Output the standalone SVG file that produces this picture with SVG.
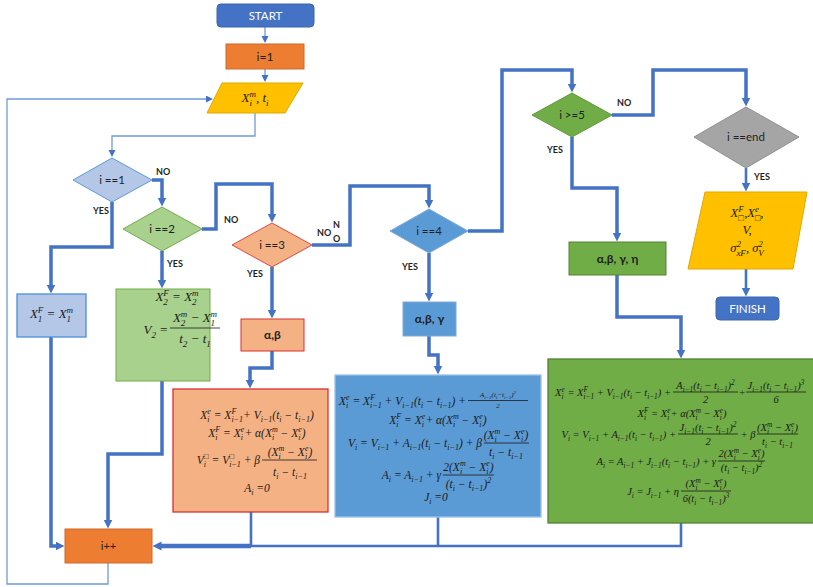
<svg xmlns="http://www.w3.org/2000/svg" width="813" height="587" viewBox="0 0 813 587">
<defs>
<style>
.t{font-family:Lato,"Liberation Sans",sans-serif;font-size:11.5px;fill:#1f1f1f;text-anchor:middle}
.w{fill:#fff}
.bd{font-weight:bold}
.lb{font-family:Lato,"Liberation Sans",sans-serif;font-size:9px;font-weight:bold;fill:#1f1f1f}
.m{font-family:"Liberation Serif","DejaVu Serif",serif;font-style:italic;font-size:11.5px;fill:#1a1a1a}
.g{font-size:10.5px}
.h{font-size:13px}
.r{font-size:7px}
.p{font-size:8px}
.q{font-size:7.3px}
.p9{font-size:9px}
.rr{font-size:5px}
.c{text-anchor:middle}
.e{text-anchor:end}
.k{stroke:#4472C4;stroke-width:3.5;fill:none}
.k2{stroke:#4472C4;stroke-width:2.6;fill:none}
.n{stroke:#6F9BD8;stroke-width:1.3;fill:none}
.fb{stroke:#1a1a1a;stroke-width:0.8}
</style>
<marker id="a" markerUnits="userSpaceOnUse" markerWidth="10" markerHeight="10" refX="3.5" refY="4.5" orient="auto"><path d="M0,0L9,4.5L0,9z" fill="#4472C4"/></marker>
<marker id="s" markerUnits="userSpaceOnUse" markerWidth="8" markerHeight="8" refX="3" refY="3.5" orient="auto"><path d="M0,0L7,3.5L0,7z" fill="#4472C4"/></marker>
</defs>

<g id="connectors">
<path class="n" d="M265,27V39" marker-end="url(#s)"/>
<path class="n" d="M265,69V78" marker-end="url(#s)"/>
<path class="n" d="M108,563V584H7V99H209" marker-end="url(#s)"/>
<path class="n" d="M255,113V136H112V153" marker-end="url(#s)"/>
<path class="k" d="M152,180H162V201" marker-end="url(#a)"/>
<path class="k" d="M112,202V247H51V288" marker-end="url(#a)"/>
<path class="k" d="M51,337V546H59" marker-end="url(#a)"/>
<path class="k" d="M202,229H216V184H272V217" marker-end="url(#a)"/>
<path class="k" d="M162,251V283" marker-end="url(#a)"/>
<path class="k" d="M162,381V454H108V523" marker-end="url(#a)"/>
<path class="k" d="M312,245H350V186H429V203" marker-end="url(#a)"/>
<path class="k" d="M272,267V313" marker-end="url(#a)"/>
<path class="k" d="M272,351V368H250V383" marker-end="url(#a)"/>
<path class="k2" d="M251,512V546"/>
<path class="k" d="M468,231H502V70H572V87" marker-end="url(#a)"/>
<path class="k" d="M429,253V296" marker-end="url(#a)"/>
<path class="k" d="M429,336V355H438V369" marker-end="url(#a)"/>
<path class="k2" d="M438,517V546"/>
<path class="k" d="M612,115H653V70H746V101" marker-end="url(#a)"/>
<path class="k" d="M572,137V188H617V236" marker-end="url(#a)"/>
<path class="k" d="M617,275V317H681V353" marker-end="url(#a)"/>
<path class="k2" d="M681,523V546H158" marker-end="url(#a)"/>
<path stroke="#4472C4" stroke-width="4.5" fill="none" d="M251,546H158"/>
<path class="k2" d="M746,168V186" marker-end="url(#a)"/>
<path class="k2" d="M746,269V291" marker-end="url(#a)"/>
<text class="lb" x="156" y="175">NO</text>
<text class="lb" x="93" y="214">YES</text>
<text class="lb" x="224" y="223">NO</text>
<text class="lb" x="167" y="267">YES</text>
<text class="lb" x="247" y="277">YES</text>
<text class="lb" x="317" y="236">NO</text>
<text class="lb" x="333" y="228">N</text>
<text class="lb" x="333" y="242">O</text>
<text class="lb" x="402" y="270">YES</text>
<text class="lb" x="617" y="106">NO</text>
<text class="lb" x="547" y="153">YES</text>
<text class="lb" x="754" y="180">YES</text>
</g>

<g id="start">
<rect x="217" y="4" width="97" height="23" rx="4" fill="#4472C4" stroke="#3B64AD"/>
<text class="t w" x="265.5" y="20">START</text>
</g>
<g id="init">
<rect x="226" y="44" width="78" height="25" fill="#ED7D31" stroke="#D0682A"/>
<text class="t" x="265" y="61" style="font-size:12px">i=1</text>
</g>
<g id="input">
<polygon points="222,83 303,83 285,113 207,113" fill="#FFC000" stroke="#E0A800"/>
<text class="m h c" x="255" y="102">X<tspan class="p9" dy="-5.5">m</tspan><tspan class="p9" dx="-6.5" dy="9">i</tspan><tspan dx="4" dy="-3.5">, t</tspan><tspan class="p9" dy="3.5">i</tspan></text>
</g>
<g id="d1">
<polygon points="112,158 152,180 112,202 73,180" fill="#B4C7E7" stroke="#5B9BD5"/>
<text class="t" x="112" y="184">i ==1</text>
</g>
<g id="b1">
<rect x="17" y="294" width="69" height="43" fill="#B4C7E7" stroke="#4A90D9" stroke-width="1.3"/>
<text class="m h c" x="51.5" y="318">X<tspan class="p9" dy="-5.5">F</tspan><tspan class="p9" dx="-5.5" dy="9">1</tspan><tspan dx="1" dy="-3.5"> = X</tspan><tspan class="p9" dy="-5.5">m</tspan><tspan class="p9" dx="-6.5" dy="9">1</tspan></text>
</g>
<g id="d2">
<polygon points="162,207 202,229 162,251 123,229" fill="#A9D18E" stroke="#70AD47"/>
<text class="t" x="162" y="233">i ==2</text>
</g>
<g id="b2">
<rect x="116" y="289" width="94" height="92" fill="#A9D18E" stroke="#70AD47"/>
<text class="m h c" x="177" y="301">X<tspan class="p9" dy="-5.5">F</tspan><tspan class="p9" dx="-5.5" dy="9">2</tspan><tspan dx="1" dy="-3.5"> = X</tspan><tspan class="p9" dy="-5.5">m</tspan><tspan class="p9" dx="-6.5" dy="9">2</tspan></text>
<text class="m h e" x="168" y="334">V<tspan class="p9" dy="3.5">2</tspan><tspan dy="-3.5"> =</tspan></text>
<text class="m h c" x="195" y="322">X<tspan class="p9" dy="-5.5">m</tspan><tspan class="p9" dx="-6.5" dy="9">2</tspan><tspan dx="2" dy="-3.5"> − X</tspan><tspan class="p9" dy="-5.5">m</tspan><tspan class="p9" dx="-6.5" dy="9">1</tspan></text>
<line class="fb" x1="170" y1="328" x2="220" y2="328"/>
<text class="m h c" x="195" y="343">t<tspan class="p9" dy="3.5">2</tspan><tspan dy="-3.5"> − t</tspan><tspan class="p9" dy="3.5">1</tspan></text>
</g>
<g id="d3">
<polygon points="272,223 312,245 272,267 232,245" fill="#F4B183" stroke="#E04848"/>
<text class="t" x="272" y="249">i ==3</text>
</g>
<g id="p3">
<rect x="241" y="319" width="63" height="32" fill="#F4B183" stroke="#D83030"/>
<text class="t bd" x="272.5" y="339" style="font-size:12px">α,β</text>
</g>
<g id="b3">
<rect x="173" y="389" width="155" height="123" fill="#F4B183" stroke="#D83030" stroke-width="1.3"/>
<text class="m c" x="257" y="419">X<tspan class="p" dy="-5">e</tspan><tspan class="p" dx="-3.5" dy="8">i</tspan><tspan dx="1.3" dy="-3"> = X</tspan><tspan class="p" dy="-5">F</tspan><tspan class="p" dx="-4.9" dy="8">i−1</tspan><tspan dy="-3">+ V</tspan><tspan class="p" dy="3">i−1</tspan><tspan dy="-3">(t</tspan><tspan class="p" dy="3">i</tspan><tspan dy="-3"> − t</tspan><tspan class="p" dy="3">i−1</tspan><tspan dy="-3">)</tspan></text>
<text class="m c" x="257" y="437">X<tspan class="p" dy="-5">F</tspan><tspan class="p" dx="-4.9" dy="8">i</tspan><tspan dx="2.7" dy="-3"> = X</tspan><tspan class="p" dy="-5">e</tspan><tspan class="p" dx="-3.5" dy="8">i</tspan><tspan dx="1.3" dy="-3">+ α(X</tspan><tspan class="p" dy="-5">m</tspan><tspan class="p" dx="-5.8" dy="8">i</tspan><tspan dx="3.6" dy="-3"> − X</tspan><tspan class="p" dy="-5">e</tspan><tspan class="p" dx="-3.5" dy="8">i</tspan><tspan dx="1.3" dy="-3">)</tspan></text>
<text class="m e" x="260" y="464">V<tspan class="p" dy="-5">□</tspan><tspan class="p" dx="-5" dy="8">i</tspan><tspan dx="2.8" dy="-3"> = V</tspan><tspan class="p" dy="-5">□</tspan><tspan class="p" dx="-5" dy="8">i−1</tspan><tspan dy="-3"> + β</tspan></text>
<text class="m c" x="290" y="456">(X<tspan class="p" dy="-5">m</tspan><tspan class="p" dx="-5.8" dy="8">i</tspan><tspan dx="3.6" dy="-3"> − X</tspan><tspan class="p" dy="-5">e</tspan><tspan class="p" dx="-3.5" dy="8">i</tspan><tspan dx="1.3" dy="-3">)</tspan></text>
<line class="fb" x1="262" y1="460" x2="317" y2="460"/>
<text class="m c" x="290" y="476">t<tspan class="p" dy="3">i</tspan><tspan dy="-3"> − t</tspan><tspan class="p" dy="3">i−1</tspan></text>
<text class="m c" x="257" y="492">A<tspan class="p" dy="3">i</tspan><tspan dy="-3"> =0</tspan></text>
</g>
<g id="d4">
<polygon points="429,209 468,231 429,253 390,231" fill="#5B9BD5" stroke="#80A8DA"/>
<text class="t" x="429" y="235">i ==4</text>
</g>
<g id="p4">
<rect x="403" y="302" width="53" height="34" fill="#5B9BD5" stroke="#80A8DA"/>
<text class="t bd" x="429.5" y="323" style="font-size:12px">α,β, γ</text>
</g>
<g id="b4">
<rect x="335" y="375" width="206" height="142" fill="#5B9BD5" stroke="#9DC0E8" stroke-width="1.3"/>
<text class="m e" x="466" y="405">X<tspan class="p" dy="-5">e</tspan><tspan class="p" dx="-3.5" dy="8">i</tspan><tspan dx="1.3" dy="-3"> = X</tspan><tspan class="p" dy="-5">F</tspan><tspan class="p" dx="-4.9" dy="8">i−1</tspan><tspan dy="-3"> + V</tspan><tspan class="p" dy="3">i−1</tspan><tspan dy="-3">(t</tspan><tspan class="p" dy="3">i</tspan><tspan dy="-3"> − t</tspan><tspan class="p" dy="3">i−1</tspan><tspan dy="-3">) +</tspan></text>
<text class="m c r" x="498" y="397">A<tspan class="rr" dy="2">i−1</tspan><tspan dy="-2">(t</tspan><tspan class="rr" dy="2">i</tspan><tspan dy="-2">−t</tspan><tspan class="rr" dy="2">i−1</tspan><tspan dy="-2">)</tspan><tspan class="rr" dy="-3">2</tspan></text>
<line class="fb" x1="468" y1="400.5" x2="528" y2="400.5" stroke-width="0.6"/>
<text class="m c r" x="498" y="408">2</text>
<text class="m c" x="438" y="424">X<tspan class="p" dy="-5">F</tspan><tspan class="p" dx="-4.9" dy="8">i</tspan><tspan dx="2.7" dy="-3"> = X</tspan><tspan class="p" dy="-5">e</tspan><tspan class="p" dx="-3.5" dy="8">i</tspan><tspan dx="1.3" dy="-3">+ α(X</tspan><tspan class="p" dy="-5">m</tspan><tspan class="p" dx="-5.8" dy="8">i</tspan><tspan dx="3.6" dy="-3"> − X</tspan><tspan class="p" dy="-5">e</tspan><tspan class="p" dx="-3.5" dy="8">i</tspan><tspan dx="1.3" dy="-3">)</tspan></text>
<text class="m e" x="482" y="447">V<tspan class="p" dy="3">i</tspan><tspan dy="-3"> = V</tspan><tspan class="p" dy="3">i−1</tspan><tspan dy="-3"> + A</tspan><tspan class="p" dy="3">i−1</tspan><tspan dy="-3">(t</tspan><tspan class="p" dy="3">i</tspan><tspan dy="-3"> − t</tspan><tspan class="p" dy="3">i−1</tspan><tspan dy="-3">) + β</tspan></text>
<text class="m c" x="506" y="439">(X<tspan class="p" dy="-5">m</tspan><tspan class="p" dx="-5.8" dy="8">i</tspan><tspan dx="3.6" dy="-3"> − X</tspan><tspan class="p" dy="-5">e</tspan><tspan class="p" dx="-3.5" dy="8">i</tspan><tspan dx="1.3" dy="-3">)</tspan></text>
<line class="fb" x1="484" y1="443" x2="529" y2="443"/>
<text class="m c" x="506" y="456">t<tspan class="p" dy="3">i</tspan><tspan dy="-3"> − t</tspan><tspan class="p" dy="3">i−1</tspan></text>
<text class="m e" x="441" y="479">A<tspan class="p" dy="3">i</tspan><tspan dy="-3"> = A</tspan><tspan class="p" dy="3">i−1</tspan><tspan dy="-3"> + γ</tspan></text>
<text class="m c" x="468.5" y="471">2(X<tspan class="p" dy="-5">m</tspan><tspan class="p" dx="-5.8" dy="8">i</tspan><tspan dx="3.6" dy="-3"> − X</tspan><tspan class="p" dy="-5">e</tspan><tspan class="p" dx="-3.5" dy="8">i</tspan><tspan dx="1.3" dy="-3">)</tspan></text>
<line class="fb" x1="443" y1="475" x2="494" y2="475"/>
<text class="m c" x="468.5" y="488">(t<tspan class="p" dy="3">i</tspan><tspan dy="-3"> − t</tspan><tspan class="p" dy="3">i−1</tspan><tspan dy="-3">)</tspan><tspan class="p" dy="-5">2</tspan></text>
<text class="m c" x="436" y="501">J<tspan class="p" dy="3">i</tspan><tspan dy="-3"> =0</tspan></text>
</g>
<g id="d5">
<polygon points="572,93 612,115 572,137 532,115" fill="#70AD47" stroke="#5E9A3A"/>
<text class="t" x="572" y="119">i &gt;=5</text>
</g>
<g id="p5">
<rect x="569" y="242" width="97" height="33" fill="#70AD47" stroke="#548235"/>
<text class="t bd" x="617.5" y="263" style="font-size:12px">α,β, γ, η</text>
</g>
<g id="b5">
<rect x="548" y="359" width="270" height="164" fill="#70AD47" stroke="#548235" stroke-width="1.3"/>
<text class="m g e" x="671" y="396">X<tspan class="q" dy="-4.5">e</tspan><tspan class="q" dx="-3.2" dy="7.5">i</tspan><tspan dx="1.2" dy="-3"> = X</tspan><tspan class="q" dy="-4.5">F</tspan><tspan class="q" dx="-4.5" dy="7.5">i−1</tspan><tspan dy="-3"> + V</tspan><tspan class="q" dy="3">i−1</tspan><tspan dy="-3">(t</tspan><tspan class="q" dy="3">i</tspan><tspan dy="-3"> − t</tspan><tspan class="q" dy="3">i−1</tspan><tspan dy="-3">) +</tspan></text>
<text class="m g c" x="705.5" y="389">A<tspan class="q" dy="3">i−1</tspan><tspan dy="-3">(t</tspan><tspan class="q" dy="3">i</tspan><tspan dy="-3"> − t</tspan><tspan class="q" dy="3">i−1</tspan><tspan dy="-3">)</tspan><tspan class="q" dy="-4.5">2</tspan></text>
<line class="fb" x1="673" y1="392" x2="738" y2="392"/>
<text class="m g c" x="705.5" y="403">2</text>
<text class="m g c" x="742" y="396">+</text>
<text class="m g c" x="776" y="389">J<tspan class="q" dy="3">i−1</tspan><tspan dy="-3">(t</tspan><tspan class="q" dy="3">i</tspan><tspan dy="-3"> − t</tspan><tspan class="q" dy="3">i−1</tspan><tspan dy="-3">)</tspan><tspan class="q" dy="-4.5">3</tspan></text>
<line class="fb" x1="746" y1="392" x2="806" y2="392"/>
<text class="m g c" x="776" y="403">6</text>
<text class="m g c" x="682" y="417">X<tspan class="q" dy="-4.5">F</tspan><tspan class="q" dx="-4.5" dy="7.5">i</tspan><tspan dx="2.5" dy="-3"> = X</tspan><tspan class="q" dy="-4.5">e</tspan><tspan class="q" dx="-3.2" dy="7.5">i</tspan><tspan dx="1.2" dy="-3">+ α(X</tspan><tspan class="q" dy="-4.5">m</tspan><tspan class="q" dx="-5.3" dy="7.5">i</tspan><tspan dx="3.3" dy="-3"> − X</tspan><tspan class="q" dy="-4.5">e</tspan><tspan class="q" dx="-3.2" dy="7.5">i</tspan><tspan dx="1.2" dy="-3">)</tspan></text>
<text class="m g e" x="676" y="438">V<tspan class="q" dy="3">i</tspan><tspan dy="-3"> = V</tspan><tspan class="q" dy="3">i−1</tspan><tspan dy="-3"> + A</tspan><tspan class="q" dy="3">i−1</tspan><tspan dy="-3">(t</tspan><tspan class="q" dy="3">i</tspan><tspan dy="-3"> − t</tspan><tspan class="q" dy="3">i−1</tspan><tspan dy="-3">) +</tspan></text>
<text class="m g c" x="708" y="431">J<tspan class="q" dy="3">i−1</tspan><tspan dy="-3">(t</tspan><tspan class="q" dy="3">i</tspan><tspan dy="-3"> − t</tspan><tspan class="q" dy="3">i−1</tspan><tspan dy="-3">)</tspan><tspan class="q" dy="-4.5">2</tspan></text>
<line class="fb" x1="678" y1="434" x2="738" y2="434"/>
<text class="m g c" x="708" y="445">2</text>
<text class="m g c" x="748" y="438">+ β</text>
<text class="m g c" x="777.5" y="431">(X<tspan class="q" dy="-4.5">m</tspan><tspan class="q" dx="-5.3" dy="7.5">i</tspan><tspan dx="3.3" dy="-3"> − X</tspan><tspan class="q" dy="-4.5">e</tspan><tspan class="q" dx="-3.2" dy="7.5">i</tspan><tspan dx="1.2" dy="-3">)</tspan></text>
<line class="fb" x1="757" y1="434" x2="798" y2="434"/>
<text class="m g c" x="777.5" y="445">t<tspan class="q" dy="3">i</tspan><tspan dy="-3"> − t</tspan><tspan class="q" dy="3">i−1</tspan></text>
<text class="m g e" x="716" y="465">A<tspan class="q" dy="3">i</tspan><tspan dy="-3"> = A</tspan><tspan class="q" dy="3">i−1</tspan><tspan dy="-3"> + J</tspan><tspan class="q" dy="3">i−1</tspan><tspan dy="-3">(t</tspan><tspan class="q" dy="3">i</tspan><tspan dy="-3"> − t</tspan><tspan class="q" dy="3">i−1</tspan><tspan dy="-3">) + γ</tspan></text>
<text class="m g c" x="741.5" y="457">2(X<tspan class="q" dy="-4.5">m</tspan><tspan class="q" dx="-5.3" dy="7.5">i</tspan><tspan dx="3.3" dy="-3"> − X</tspan><tspan class="q" dy="-4.5">e</tspan><tspan class="q" dx="-3.2" dy="7.5">i</tspan><tspan dx="1.2" dy="-3">)</tspan></text>
<line class="fb" x1="718" y1="461" x2="765" y2="461"/>
<text class="m g c" x="741.5" y="471">(t<tspan class="q" dy="3">i</tspan><tspan dy="-3"> − t</tspan><tspan class="q" dy="3">i−1</tspan><tspan dy="-3">)</tspan><tspan class="q" dy="-4.5">2</tspan></text>
<text class="m g e" x="679" y="495">J<tspan class="q" dy="3">i</tspan><tspan dy="-3"> = J</tspan><tspan class="q" dy="3">i−1</tspan><tspan dy="-3"> + η</tspan></text>
<text class="m g c" x="706" y="487">(X<tspan class="q" dy="-4.5">m</tspan><tspan class="q" dx="-5.3" dy="7.5">i</tspan><tspan dx="3.3" dy="-3"> − X</tspan><tspan class="q" dy="-4.5">e</tspan><tspan class="q" dx="-3.2" dy="7.5">i</tspan><tspan dx="1.2" dy="-3">)</tspan></text>
<line class="fb" x1="681" y1="491" x2="731" y2="491"/>
<text class="m g c" x="706" y="502">6(t<tspan class="q" dy="3">i</tspan><tspan dy="-3"> − t</tspan><tspan class="q" dy="3">i−1</tspan><tspan dy="-3">)</tspan><tspan class="q" dy="-4.5">3</tspan></text>
</g>
<g id="d6">
<polygon points="746,107 799,137 746,168 694,137" fill="#A5A5A5" stroke="#909090"/>
<text class="t" x="746" y="141">i ==end</text>
</g>
<g id="output">
<polygon points="705,192 807,192 793,269 688,269" fill="#FFC000" stroke="#E0A800"/>
<text class="m c" x="747" y="217" style="font-size:12.5px">X<tspan class="p9" dy="-5.5">F</tspan><tspan class="p9" dx="-5.5" dy="9">□</tspan><tspan dx="0.5" dy="-3.5">,X</tspan><tspan class="p9" dy="-5.5">e</tspan><tspan class="p9" dx="-4" dy="9">□</tspan><tspan dy="-3.5">,</tspan></text>
<text class="m c" x="747" y="234" style="font-size:12.5px">V,</text>
<text class="m c" x="747" y="252" style="font-size:12.5px">σ<tspan class="p9" dy="-5.5">2</tspan><tspan class="p9" dx="-4.5" dy="9">xF</tspan><tspan dy="-3.5">, σ</tspan><tspan class="p9" dy="-5.5">2</tspan><tspan class="p9" dx="-4.5" dy="9">V</tspan></text>
</g>
<g id="finish">
<rect x="716" y="297" width="63" height="23" rx="4" fill="#4472C4" stroke="#3B64AD"/>
<text class="t w" x="747.5" y="313">FINISH</text>
</g>
<g id="incr">
<rect x="65" y="529" width="87" height="34" fill="#ED7D31" stroke="#D0682A"/>
<text class="t" x="108.5" y="550" style="font-size:11px">i++</text>
</g>
</svg>
